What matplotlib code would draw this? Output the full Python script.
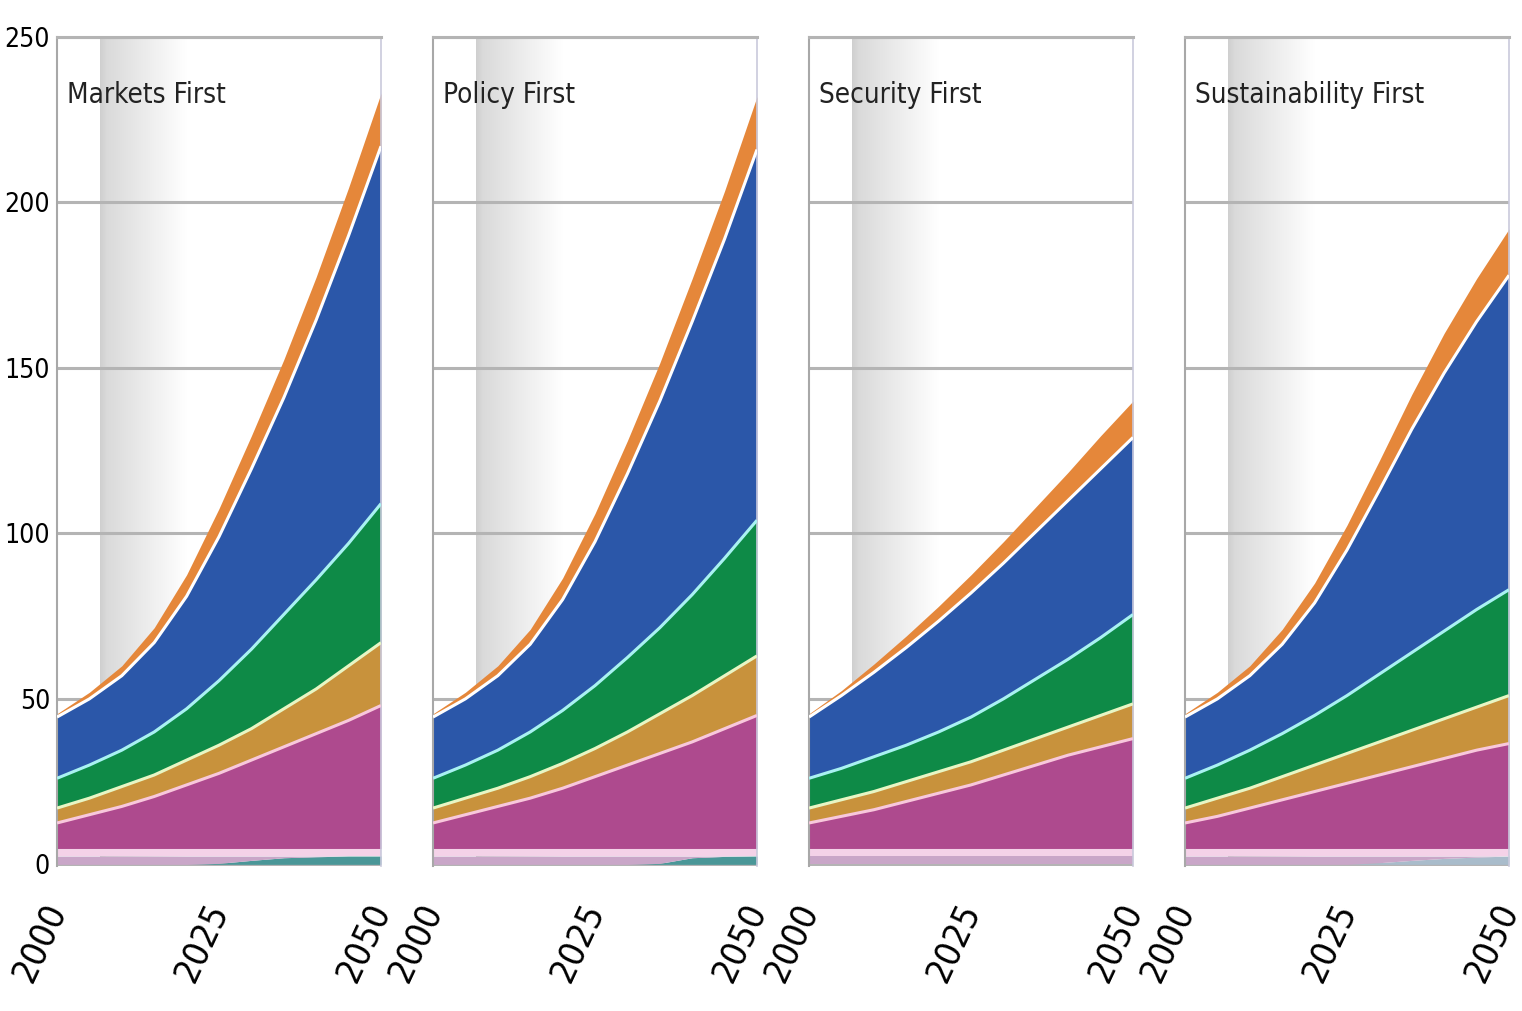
import numpy as np
import matplotlib.pyplot as plt
from matplotlib.colors import LinearSegmentedColormap

plt.rcParams['font.family'] = ['DejaVu Sans']
plt.rcParams['font.stretch'] = 'condensed'

years = [2000, 2005, 2010, 2015, 2020, 2025, 2030, 2035, 2040, 2045, 2050]
scenarios = ['Markets First', 'Policy First', 'Security First', 'Sustainability First']

# upper edge of each stacked band
teal_top = {
    'Markets First':        [0, 0, 0, 0, 0, 0.3, 1.2, 2.0, 2.3, 2.5, 2.5],
    'Policy First':         [0, 0, 0, 0, 0, 0, 0, 0.3, 2.0, 2.4, 2.5],
    'Security First':       [0, 0, 0, 0, 0, 0, 0, 0, 0, 0, 0],
    'Sustainability First': [0, 0, 0, 0, 0, 0, 0.5, 1.2, 1.8, 2.2, 2.5],
}
lilac_top = {
    'Markets First':        [2.5, 2.5, 2.5, 2.5, 2.5, 2.5, 2.5, 2.5, 2.5, 2.5, 2.5],
    'Policy First':         [2.5, 2.5, 2.5, 2.5, 2.5, 2.5, 2.5, 2.5, 2.5, 2.5, 2.5],
    'Security First':       [2.5, 2.5, 2.5, 2.5, 2.5, 2.5, 2.5, 2.5, 2.5, 2.5, 2.5],
    'Sustainability First': [2.5, 2.5, 2.5, 2.5, 2.5, 2.5, 2.5, 2.5, 2.5, 2.5, 2.5],
}
pale_top = {
    'Markets First':        [4.8, 4.8, 4.8, 4.8, 4.8, 4.8, 4.8, 4.8, 4.8, 4.8, 4.8],
    'Policy First':         [4.8, 4.8, 4.8, 4.8, 4.8, 4.8, 4.8, 4.8, 4.8, 4.8, 4.8],
    'Security First':       [4.8, 4.8, 4.8, 4.8, 4.8, 4.8, 4.8, 4.8, 4.8, 4.8, 4.8],
    'Sustainability First': [4.8, 4.8, 4.8, 4.8, 4.8, 4.8, 4.8, 4.8, 4.8, 4.8, 4.8],
}
magenta_top = {
    'Markets First':        [12.5, 15, 17.5, 20.5, 24, 27.5, 31.5, 35.5, 39.5, 43.5, 48],
    'Policy First':         [12.5, 15, 17.5, 20, 23, 26.5, 30, 33.5, 37, 41, 45],
    'Security First':       [12.5, 14.5, 16.5, 19, 21.5, 24, 27, 30, 33, 35.5, 38],
    'Sustainability First': [12.5, 14.5, 17, 19.5, 22, 24.5, 27, 29.5, 32, 34.5, 36.5],
}
tan_top = {
    'Markets First':        [17, 20, 23.5, 27, 31.5, 36, 41, 47, 53, 60, 67],
    'Policy First':         [17, 20, 23, 26.5, 30.5, 35, 40, 45.5, 51, 57, 63],
    'Security First':       [17, 19.5, 22, 25, 28, 31, 34.5, 38, 41.5, 45, 48.5],
    'Sustainability First': [17, 20, 23, 26.5, 30, 33.5, 37, 40.5, 44, 47.5, 51],
}
green_top = {
    'Markets First':        [26, 30, 34.5, 40, 47, 55.5, 65, 75.5, 86, 97, 109],
    'Policy First':         [26, 30, 34.5, 40, 46.5, 54, 62.5, 71.5, 81.5, 92.5, 104],
    'Security First':       [26, 29, 32.5, 36, 40, 44.5, 50, 56, 62, 68.5, 75.5],
    'Sustainability First': [26, 30, 34.5, 39.5, 45, 51, 57.5, 64, 70.5, 77, 83],
}
blue_top = {
    'Markets First':        [44.5, 50, 57, 67, 81, 99, 119.5, 141, 164.5, 190, 217],
    'Policy First':         [44.5, 50, 57, 66.5, 80, 97.5, 118, 140, 164, 189, 216],
    'Security First':       [44.5, 51, 58, 65.5, 73.5, 82, 91, 100.5, 110, 119.5, 129],
    'Sustainability First': [44.5, 50, 57, 66.5, 79, 95, 113, 131.5, 148.5, 164, 178],
}
orange_top = {
    'Markets First':        [45.5, 52, 60, 71.5, 87.5, 107.5, 129.5, 152.5, 177.5, 204.5, 233],
    'Policy First':         [45.5, 52, 60, 71, 86.5, 106, 128, 151.5, 177, 203.5, 232],
    'Security First':       [45.5, 52.5, 60.5, 69, 78, 87.5, 97.5, 108, 118.5, 129.5, 140],
    'Sustainability First': [45.5, 52, 60, 71, 85, 102.5, 122, 142, 160.5, 177, 192],
}

yticks = [0, 50, 100, 150, 200, 250]
xticks = [2000, 2025, 2050]

layers = [teal_top, lilac_top, pale_top, magenta_top, tan_top, green_top, blue_top, orange_top]
fill_colors = ['#4a9798', '#c9a6c8', '#f4d2e8', '#ae4a8e', '#c8923c', '#0e8a47', '#2b57a9', '#e5873a']
teal_colors = {'Markets First': '#4a9798', 'Policy First': '#4a9798',
               'Security First': '#c9a6c8', 'Sustainability First': '#a9bccb'}
# thin light lines between bands: (lower band index, colour)
seps = [(3, '#f8c8dc'), (4, '#e8f6c4'), (5, '#a9f2f2'), (6, '#ffffff')]

band_cmap = LinearSegmentedColormap.from_list(
    'band', [(0, '#cfcfcf'), (0.08, '#dadada'), (0.45, '#e9e9e9'), (1, '#ffffff')])

fig = plt.figure(figsize=(15.22, 10.11), dpi=100)
lefts = [57, 433, 809, 1185]

for i, name in enumerate(scenarios):
    ax = fig.add_axes([lefts[i] / 1522, 145 / 1011, 324 / 1522, 829 / 1011])

    # grey shading of the recent period
    grad = np.linspace(0, 1, 256)[np.newaxis, :]
    ax.imshow(grad, extent=[2006.7, 2020, 0, 250], aspect='auto',
              cmap=band_cmap, zorder=0, interpolation='bilinear')

    lower = np.zeros(len(years))
    for k, layer in enumerate(layers):
        upper = np.array(layer[name], dtype=float)
        col = teal_colors[name] if k == 0 else fill_colors[k]
        ax.fill_between(years, lower, upper, color=col, lw=0, zorder=2)
        lower = upper

    for k, col in seps:
        ax.plot(years, layers[k][name], color=col, lw=2.2, zorder=3,
                solid_capstyle='butt')

    ax.set_xlim(2000, 2050)
    ax.set_ylim(-0.5, 250)
    ax.set_yticks(yticks)
    ax.yaxis.grid(True, color='#b4b4b4', lw=2.2)
    ax.set_axisbelow(True)
    ax.tick_params(length=0)

    ax.set_xticks(xticks)
    ax.set_xticklabels([str(x) for x in xticks], rotation=65, ha='right',
                       va='center', rotation_mode='anchor', fontsize=26)
    ax.tick_params(axis='x', pad=28)
    if i == 0:
        ax.set_yticklabels([str(y) for y in yticks], fontsize=19)
        ax.tick_params(axis='y', pad=5)
    else:
        ax.set_yticklabels([])

    ax.spines['bottom'].set_visible(False)
    ax.spines['top'].set_color('#b4b4b4')
    ax.spines['top'].set_linewidth(2.2)
    ax.spines['left'].set_color('#a8a8a8')
    ax.spines['left'].set_linewidth(1.5)
    ax.spines['right'].set_color('#c9c9dc')
    ax.spines['right'].set_linewidth(1.2)

    ax.text(0.03, 0.93, name, transform=ax.transAxes, fontsize=20,
            ha='left', va='center', color='#222222', zorder=5)

fig.savefig('out.png', dpi=100)
